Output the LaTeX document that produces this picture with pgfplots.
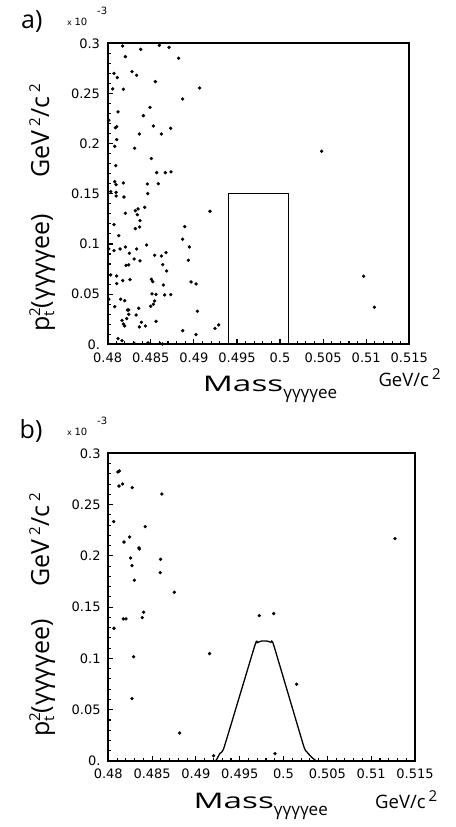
\documentclass[border=0pt]{standalone}
\usepackage{pgfplots}
\pgfplotsset{compat=1.18}
\usepackage{pgfplotstable}
\usepackage{graphicx}
\usepackage{fontspec}
\setmainfont{Open Sans}
\newfontfamily\tickfont{DejaVu Sans}

% panel a: scatter (x = mass in GeV/c^2, y = pt^2 in 10^-3 GeV^2/c^2)
\pgfplotstableread{
x y
0.48174 0.2973
0.48383 0.2940
0.48599 0.2980
0.48712 0.2960
0.48205 0.2867
0.48824 0.2851
0.48073 0.2701
0.48112 0.2658
0.48282 0.2718
0.48336 0.2681
0.48553 0.2618
0.48058 0.2545
0.48182 0.2542
0.49067 0.2555
0.48870 0.2445
0.48491 0.2362
0.48120 0.2316
0.48414 0.2279
0.48012 0.2233
0.48089 0.2159
0.48104 0.2169
0.48530 0.2176
0.48731 0.2153
0.48367 0.2096
0.48623 0.2096
0.48104 0.2040
0.48081 0.1973
0.48313 0.1954
0.48507 0.1851
0.48093 0.1781
0.48568 0.1711
0.48669 0.1711
0.48735 0.1718
0.48081 0.1621
0.48097 0.1591
0.48182 0.1608
0.48460 0.1598
0.48588 0.1601
0.48035 0.1522
0.48097 0.1515
0.48097 0.1478
0.48189 0.1468
0.48464 0.1502
0.48205 0.1306
0.48321 0.1332
0.48352 0.1349
0.48344 0.1292
0.48429 0.1365
0.48375 0.1233
0.48073 0.1193
0.48321 0.1153
0.48371 0.1169
0.49187 0.1326
0.48893 0.1173
0.48870 0.1047
0.48128 0.1083
0.48947 0.0970
0.48012 0.0950
0.48073 0.0934
0.48143 0.0950
0.48205 0.0970
0.48336 0.0950
0.48251 0.0907
0.48452 0.0990
0.48306 0.0850
0.48375 0.0831
0.48545 0.0887
0.48623 0.0880
0.48677 0.0914
0.48936 0.0837
0.48213 0.0787
0.48244 0.0791
0.48638 0.0794
0.48684 0.0731
0.48035 0.0691
0.48104 0.0681
0.48174 0.0635
0.48259 0.0645
0.48507 0.0648
0.48522 0.0625
0.48104 0.0605
0.48646 0.0591
0.48967 0.0621
0.49025 0.0601
0.48514 0.0502
0.48561 0.0498
0.48661 0.0492
0.48731 0.0495
0.48151 0.0449
0.48197 0.0435
0.48012 0.0449
0.48545 0.0432
0.48530 0.0399
0.48499 0.0379
0.48081 0.0375
0.48360 0.0359
0.48228 0.0342
0.48244 0.0342
0.48244 0.0299
0.48329 0.0292
0.49040 0.0329
0.48166 0.0239
0.48220 0.0256
0.48182 0.0203
0.48197 0.0183
0.48391 0.0219
0.48367 0.0173
0.48437 0.0183
0.48561 0.0229
0.48870 0.0136
0.49025 0.0096
0.48120 0.0056
0.48166 0.0037
0.48306 0.0010
0.48468 0.0013
0.48607 0.0010
0.48638 0.0003
0.49245 0.0159
0.49288 0.0193
0.50483 0.1924
0.50970 0.0678
0.51094 0.0369
}\ptA

% panel b: scatter
\pgfplotstableread{
x y
0.48110 0.2818
0.48126 0.2828
0.48122 0.2681
0.48164 0.2701
0.48274 0.2665
0.48612 0.2603
0.48061 0.2334
0.48422 0.2285
0.48243 0.2184
0.48179 0.2135
0.48350 0.2077
0.48354 0.2067
0.48255 0.1979
0.48270 0.1905
0.48597 0.1966
0.48593 0.1836
0.48297 0.1762
0.48753 0.1645
0.48171 0.1385
0.48202 0.1385
0.48388 0.1398
0.48403 0.1450
0.48065 0.1294
0.49723 0.1417
0.49887 0.1437
0.49156 0.1047
0.48289 0.1017
0.50149 0.0748
0.48270 0.0608
0.48814 0.0273
0.49202 0.0052
0.49902 0.0072
0.51271 0.2168
}\ptB

% panel b: signal contour
\pgfplotstableread{
x y
0.49215 0.0
0.49233 0.0010
0.49274 0.0075
0.49324 0.0140
0.49674 0.1131
0.49701 0.1154
0.49750 0.1170
0.49807 0.1170
0.49857 0.1157
0.49887 0.1131
0.50226 0.0156
0.50264 0.0091
0.50321 0.0036
0.50359 0.0010
0.50375 0.0
}\curveB

\pgfplotsset{
  rootframe/.style={
    scale only axis,
    xmin=0.48, xmax=0.515, ymin=0, ymax=0.3,
    tick pos=left, tick align=inside,
    xtick={0.48,0.485,0.49,0.495,0.5,0.505,0.51,0.515},
    xticklabels={0.48,0.485,0.49,0.495,0.5,0.505,0.51,0.515},
    ytick={0,0.05,0.1,0.15,0.2,0.25,0.3},
    yticklabels={0.,0.05,0.1,0.15,0.2,0.25,0.3},
    minor x tick num=4, minor y tick num=4,
    major tick length=5pt, minor tick length=3pt,
    tick style={black, line width=1.1pt},
    axis line style={line width=2pt},
    every outer x axis line/.append style={line width=2pt},
    every outer y axis line/.append style={line width=2pt},
    ticklabel style={font=\tickfont\fontsize{13}{13}\selectfont},
    xticklabel style={inner sep=0pt, anchor=north, yshift=-8pt},
    yticklabel style={inner sep=0pt, anchor=east, xshift=-7.5pt},
    scaled ticks=false,
  },
  dots/.style={only marks, mark=*, mark size=1.5pt, black},
}

\newcommand{\ylab}{p\raisebox{-5pt}{\rlap{\fontsize{15}{15}\selectfont t}}\raisebox{9pt}{\fontsize{15}{15}\selectfont 2}(γγγγee)}
\newcommand{\yunit}{GeV\,\raisebox{9pt}{\fontsize{15}{15}\selectfont 2}/c\,\raisebox{9pt}{\fontsize{15}{15}\selectfont 2}}
\newcommand{\xlab}{\fontsize{21.5}{21.5}\selectfont\scalebox{1.55}[1]{Mass}\raisebox{-7pt}{\fontsize{17}{17}\selectfont γγγγee}}
\newcommand{\xunit}{\fontsize{18.5}{18.5}\selectfont GeV/c\,\raisebox{7pt}{\fontsize{15}{15}\selectfont 2}}
\newcommand{\expo}{{\tickfont\fontsize{8}{8}\selectfont x} {\tickfont\fontsize{10}{10}\selectfont 10}}

\begin{document}
\begin{tikzpicture}
\useasboundingbox (0,0) rectangle (455pt,827pt);

% ---- a) ----
\begin{axis}[rootframe, at={(107.7pt,482.7pt)}, anchor=south west,
    width=301.6pt, height=301pt]
  \addplot[dots] table {\ptA};
  \addplot[black, line width=1.3pt] coordinates {(0.494,0) (0.494,0.15) (0.501,0.15) (0.501,0)};
\end{axis}
\node[anchor=base east, font=\fontsize{25}{25}\selectfont] at (46pt,798pt) {a)};
\node[anchor=base west, inner sep=0pt] at (67pt,801pt) {\expo};
\node[anchor=base west, inner sep=0pt, font=\tickfont\fontsize{10}{10}\selectfont] at (97pt,812pt) {-3};
\node[rotate=90, anchor=base, font=\fontsize{25}{25}\selectfont] at (49pt,696pt) {\yunit};
\node[rotate=90, anchor=base, font=\fontsize{25}{25}\selectfont] at (49pt,554pt) {\ylab};
\node[anchor=base west, inner sep=0pt] at (202.7pt,435.7pt) {\xlab};
\node[anchor=base west, inner sep=0pt] at (378.3pt,440pt) {\xunit};

% ---- b) ----
\begin{axis}[rootframe, at={(108.3pt,66pt)}, anchor=south west,
    width=306.7pt, height=307.7pt]
  \addplot[dots] table {\ptB};
  \addplot[black, line width=1.3pt, smooth, tension=0.25] table {\curveB};
\end{axis}
\node[anchor=base east, font=\fontsize{25}{25}\selectfont] at (46pt,388pt) {b)};
\node[anchor=base west, inner sep=0pt] at (67pt,391pt) {\expo};
\node[anchor=base west, inner sep=0pt, font=\tickfont\fontsize{10}{10}\selectfont] at (97pt,402pt) {-3};
\node[rotate=90, anchor=base, font=\fontsize{25}{25}\selectfont] at (49pt,287pt) {\yunit};
\node[rotate=90, anchor=base, font=\fontsize{25}{25}\selectfont] at (49pt,149pt) {\ylab};
\node[anchor=base west, inner sep=0pt] at (193.3pt,18.5pt) {\xlab};
\node[anchor=base west, inner sep=0pt] at (375pt,18.5pt) {\xunit};
\end{tikzpicture}
\end{document}
